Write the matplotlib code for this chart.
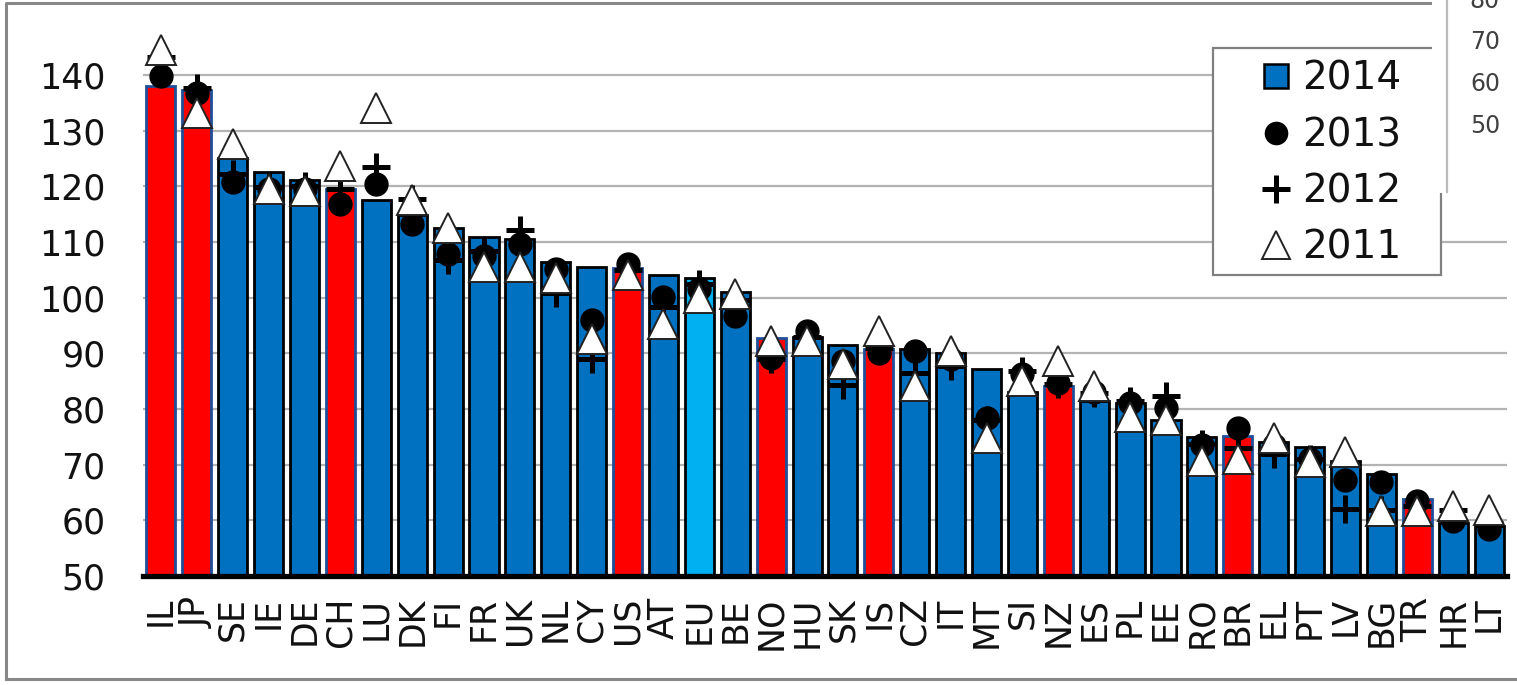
import matplotlib
matplotlib.use("Agg")
import matplotlib.pyplot as plt
from matplotlib.lines import Line2D
from matplotlib.patches import Rectangle

countries = ["IL", "JP", "SE", "IE", "DE", "CH", "LU", "DK", "FI", "FR",
             "UK", "NL", "CY", "US", "AT", "EU", "BE", "NO", "HU", "SK",
             "IS", "CZ", "IT", "MT", "SI", "NZ", "ES", "PL", "EE", "RO",
             "BR", "EL", "PT", "LV", "BG", "TR", "HR", "LT"]

v2014 = [138.1, 137.3, 125.0, 122.5, 121.1, 119.5, 117.5, 114.9, 112.5, 110.9,
         110.6, 106.4, 105.5, 105.3, 104.0, 103.6, 101.0, 92.7, 92.9, 91.5,
         90.7, 90.7, 90.1, 87.1, 83.1, 84.1, 81.4, 81.1, 78.0, 75.0,
         75.2, 74.1, 73.1, 70.7, 68.3, 63.8, 59.6, 59.0]
v2013 = [139.9, 136.7, 120.8, 119.5, 119.5, 116.9, 120.4, 113.3, 107.9, 107.5,
         109.7, 105.1, 95.9, 106.0, 100.1, 101.5, 96.7, 89.2, 94.0, 88.6,
         90.1, 90.4, 89.0, 78.4, 86.3, 84.7, 83.0, 81.0, 80.2, 73.5,
         76.6, 73.5, 71.0, 67.2, 66.8, 63.4, 59.9, 58.5]
v2012 = [143.3, 137.6, 122.3, 119.8, 120.0, 119.6, 123.5, 117.8, 106.7, 108.3,
         112.2, 100.9, 89.0, 105.0, 98.3, 102.4, 99.5, 88.9, 93.0, 84.3,
         91.0, 86.5, 87.7, 78.0, 86.8, 84.4, 82.9, 81.4, 82.3, 73.8,
         73.0, 72.0, 71.0, 62.0, 61.8, 62.5, 61.8, 59.5]
v2011 = [144.5, 133.1, 127.6, 119.6, 119.2, 123.6, 134.1, 117.5, 112.6, 105.5,
         105.5, 103.6, 92.5, 104.0, 95.3, 100.0, 100.7, 92.2, 92.3, 88.0,
         94.0, 84.1, 90.5, 74.8, 85.0, 88.6, 84.1, 78.6, 78.0, 70.7,
         71.0, 74.7, 70.5, 72.3, 61.7, 61.7, 62.6, 61.9]

red_countries = ["IL", "JP", "CH", "US", "NO", "IS", "NZ", "BR", "TR"]
eu_countries = ["EU"]

BLUE = "#0070C0"
RED = "#FF0000"
LIGHT = "#00B0F0"

W, H = 1517, 685
fig = plt.figure(figsize=(W / 100, H / 100), dpi=100)
ax = fig.add_axes([143 / W, 109 / H, 1364 / W, 0.7802])

x = list(range(len(countries)))
colors = []
edges = []
for c in countries:
    if c in red_countries:
        colors.append(RED)
        edges.append("#1F4E9A")
    elif c in eu_countries:
        colors.append(LIGHT)
        edges.append("black")
    else:
        colors.append(BLUE)
        edges.append("black")

ax.bar(x, v2014, width=0.81, color=colors, edgecolor=edges, linewidth=2.0, zorder=2)

ax.plot(x, v2013, 'o', ms=16.5, color='black', ls='none', zorder=3, clip_on=False)
ax.plot(x, v2012, '+', ms=20, mew=3.6, color='black', ls='none', zorder=4, clip_on=False)
ax.plot(x, v2011, '^', ms=21, mfc='white', mec='#222222', mew=1.4, ls='none',
        zorder=5, clip_on=False)

ax.set_xlim(-0.5, len(countries) - 0.5)
ax.set_ylim(50, 146)
ax.set_yticks(range(50, 141, 10))
ax.yaxis.grid(True, color='#B3B3B3', lw=1.6)
ax.set_axisbelow(True)

for s in ["top", "right", "left"]:
    ax.spines[s].set_visible(False)
ax.spines["bottom"].set_linewidth(3.8)
ax.spines["bottom"].set_color("black")
ax.spines["bottom"].set_zorder(6)

ax.set_xticks(x)
ax.set_xticklabels(countries, rotation=90, fontsize=25, color='#111111', va='top')
ax.tick_params(axis='x', length=0, pad=15)
ax.tick_params(axis='y', length=0, pad=27, labelsize=25, labelcolor='#111111')

# figure-level overlay: frame, legend, neighbouring chart edge
ov = fig.add_axes([0, 0, 1, 1], facecolor='none')
ov.set_xlim(0, W)
ov.set_ylim(H, 0)
ov.axis('off')

ov.plot([6, 6, 1440], [679, 3, 3], color='#888888', lw=2.2)
ov.plot([6, W], [679, 679], color='#888888', lw=2.2)

ov.add_patch(Rectangle((1213, 48), 228, 227, facecolor='white', edgecolor='#808080',
                       lw=1.6, zorder=4))

handles = [
    Line2D([], [], marker='s', ms=17, mfc=BLUE, mec='black', mew=1.8, ls='none'),
    Line2D([], [], marker='o', ms=16, color='black', ls='none'),
    Line2D([], [], marker='+', ms=20, mew=3.6, color='black', ls='none'),
    Line2D([], [], marker='^', ms=20, mfc='white', mec='#222222', mew=1.4, ls='none'),
]
leg = ov.legend(handles, ["2014", "2013", "2012", "2011"], loc='upper left',
                bbox_to_anchor=(1257 / W, 1 - 60 / H), bbox_transform=fig.transFigure,
                frameon=False, fontsize=28, borderpad=0, borderaxespad=0,
                handlelength=1.0, handletextpad=0.15, labelspacing=0.47)
leg.set_zorder(5)
for t in leg.get_texts():
    t.set_color('#111111')

ov.add_patch(Rectangle((1432, -5), 100, 198, facecolor='white', edgecolor='none', zorder=10))
ov.plot([1447, 1447], [0, 192], color='#BBBBBB', lw=1.6, zorder=11)
for val, yy in [("80", 1), ("70", 42), ("60", 84), ("50", 126)]:
    ov.text(1500, yy, val, ha='right', va='center', fontsize=17, color='#404040', zorder=12)

fig.savefig("out.png", dpi=100)
